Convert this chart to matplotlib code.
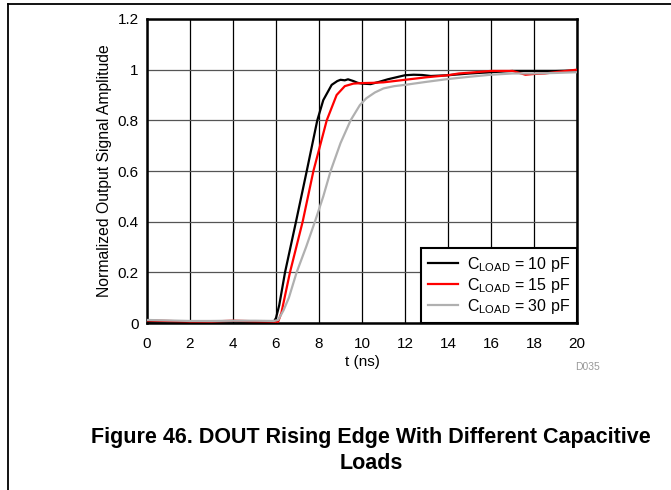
import matplotlib.pyplot as plt
from matplotlib.lines import Line2D

plt.rcParams['font.family'] = ['Liberation Sans', 'DejaVu Sans']

# rising edge traces
t_10pf = [0, 1, 2, 3, 4, 5, 5.6, 5.9, 6.0, 6.15, 6.42, 6.93, 7.43, 7.92, 8.2, 8.59, 8.85,
          9.0, 9.2, 9.35, 9.6, 9.8, 10.0, 10.4, 10.8, 11.2, 11.6, 12.0, 12.4, 12.8, 13.2,
          14, 15, 16, 17, 18, 19, 20]
y_10pf = [0.005, 0.006, 0.004, 0.007, 0.006, 0.005, 0.004, 0.005, 0.02, 0.07, 0.2, 0.4, 0.6,
          0.8, 0.88, 0.94, 0.955, 0.96, 0.958, 0.962, 0.955, 0.948, 0.945, 0.943, 0.952,
          0.962, 0.97, 0.978, 0.98, 0.979, 0.975, 0.978, 0.985, 0.99, 0.995, 0.995, 0.995, 0.997]

t_15pf = [0, 1, 2, 3, 4, 5, 5.8, 6.1, 6.25, 6.65, 7.24, 7.74, 8.36, 8.82, 9.2, 9.6, 10.0,
          10.5, 11.0, 11.5, 12.0, 13.0, 14.0, 14.5, 15, 16, 17, 17.6, 18, 18.5, 19, 20]
y_15pf = [0.01, 0.008, 0.006, 0.006, 0.009, 0.007, 0.006, 0.005, 0.04, 0.2, 0.4, 0.6, 0.8,
          0.9, 0.935, 0.945, 0.947, 0.948, 0.95, 0.955, 0.96, 0.97, 0.978, 0.985, 0.988,
          0.995, 0.995, 0.98, 0.983, 0.985, 0.99, 1.0]

t_30pf = [0, 1, 2, 3, 4, 5, 5.9, 6.1, 6.35, 6.6, 6.96, 7.4, 7.81, 8.2, 8.54, 9.0, 9.47,
          9.9, 10.2, 10.6, 11.0, 11.5, 12, 13, 14, 15, 16, 17, 18, 19, 20]
y_30pf = [0.012, 0.01, 0.008, 0.008, 0.009, 0.009, 0.008, 0.012, 0.05, 0.1, 0.2, 0.3, 0.4,
          0.5, 0.6, 0.71, 0.8, 0.86, 0.887, 0.91, 0.926, 0.935, 0.94, 0.952, 0.963, 0.972,
          0.98, 0.985, 0.985, 0.987, 0.99]

labels = ['C$_{\\mathregular{LOAD}}$ = 10 pF',
          'C$_{\\mathregular{LOAD}}$ = 15 pF',
          'C$_{\\mathregular{LOAD}}$ = 30 pF']
colors = ['black', '#ff0000', '#b0b0b0']

x_ticks = [0, 2, 4, 6, 8, 10, 12, 14, 16, 18, 20]
y_ticks = [0, 0.2, 0.4, 0.6, 0.8, 1.0, 1.2]
y_ticklabels = ['0', '0.2', '0.4', '0.6', '0.8', '1', '1.2']

fig = plt.figure(figsize=(6.71, 4.9), dpi=100)
ax = fig.add_axes([147 / 671, 1 - 323 / 490, 430 / 671, 304 / 490])

for t, y, c, lab in zip([t_10pf, t_15pf, t_30pf], [y_10pf, y_15pf, y_30pf], colors, labels):
    ax.plot(t, y, color=c, lw=1.6, label=lab, zorder=3)

ax.set_xlim(0, 20)
ax.set_ylim(0, 1.2)
ax.set_xticks(x_ticks)
ax.set_yticks(y_ticks)
ax.set_yticklabels(y_ticklabels)
ax.tick_params(length=0, labelsize=11, pad=6)
ax.tick_params(axis='x', pad=10)
ax.grid(axis='x', color='black', lw=0.9)
ax.grid(axis='y', color='#555555', lw=0.9)
for s in ax.spines.values():
    s.set_linewidth(1.8)
ax.set_xlabel('t (ns)', fontsize=11, labelpad=3)
ax.set_ylabel('Normalized Output Signal Amplitude', fontsize=11.3, labelpad=4)

leg = ax.legend(loc='lower right', fontsize=11.5, fancybox=False, framealpha=1,
                edgecolor='black', borderaxespad=0, handlelength=1.85,
                labelspacing=0.12, borderpad=0.45, handletextpad=0.55)
leg.get_frame().set_linewidth(1.5)
leg.set_zorder(5)

fig.text(587 / 671, 1 - 367 / 490, 'D035', fontsize=7.5, color='#999999', ha='center', va='center')
fig.text(371 / 671, 1 - 437 / 490, 'Figure 46. DOUT Rising Edge With Different Capacitive',
         fontsize=15.5, fontweight='bold', ha='center', va='center')
fig.text(371 / 671, 1 - 463 / 490, 'Loads', fontsize=15.5, fontweight='bold', ha='center', va='center')

# page frame: left and top rules
fig.add_artist(Line2D([8 / 671, 8 / 671], [0, 1 - 4 / 490], color='black', lw=1.3,
                      transform=fig.transFigure))
fig.add_artist(Line2D([8 / 671, 1], [1 - 4 / 490, 1 - 4 / 490], color='black', lw=1.3,
                      transform=fig.transFigure))

fig.savefig('out.png', dpi=100)
